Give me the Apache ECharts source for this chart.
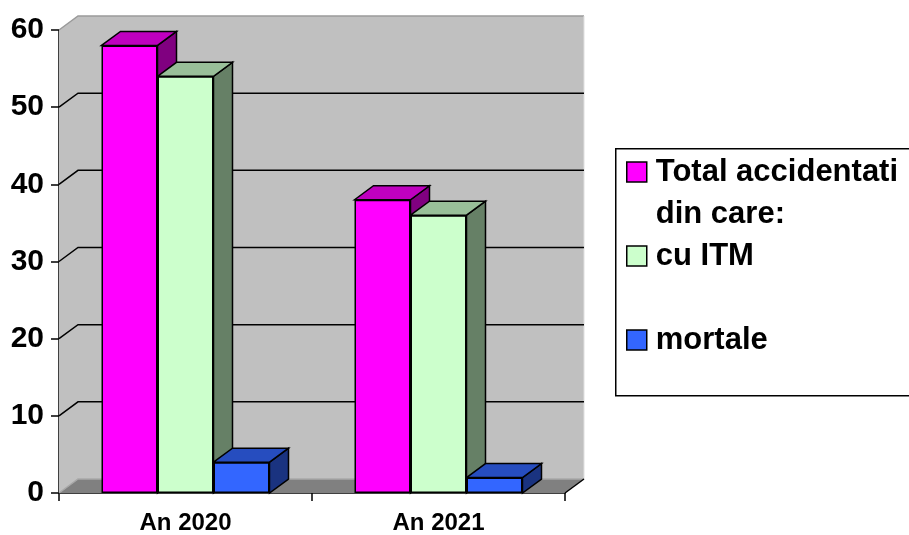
<!DOCTYPE html>
<html>
<head>
<meta charset="utf-8">
<script src="https://cdn.jsdelivr.net/npm/echarts@6/dist/echarts.min.js"></script>
<style>
  html, body { margin: 0; padding: 0; background: #ffffff; }
  #chart { width: 909px; height: 535px; }
</style>
</head>
<body>
<div id="chart"></div>
<script>
// ---- data ----
var categories = ['An 2020', 'An 2021'];
var seriesNames = ['Total accidentati\ndin care:', 'cu ITM', 'mortale'];
var totalValues = [58, 38];
var itmValues = [54, 36];
var mortaleValues = [4, 2];
var yTicks = [0, 10, 20, 30, 40, 50, 60];

// ---- style constants ----
var FONT = '"Liberation Sans", Arial, sans-serif';
var DX = 19, DY = -14;          // 3D depth offset (pixels)
var CAT_GAP = 0.336;            // category gap fraction
var frontColors = ['#FF00FF', '#CCFFCC', '#3366FF'];
var topColors = ['#BF00BF', '#99BF99', '#264DBF'];
var sideColors = ['#800080', '#668066', '#1A3380'];

var allValues = [totalValues, itmValues, mortaleValues];

function pairData(vals) {
  return vals.map(function (v, i) { return [i, v]; });
}

function faceRender(sIdx) {
  return function (params, api) {
    var cat = api.value(0), val = api.value(1);
    var top = api.coord([cat, val]);
    var base = api.coord([cat, 0]);
    var bandW = api.size([1, 0])[0];
    var barW = bandW * (1 - CAT_GAP) / 3;
    var x0 = top[0] - 1.5 * barW + sIdx * barW;
    var x1 = x0 + barW;
    var yT = top[1], yB = base[1];
    return {
      type: 'group',
      children: [
        { type: 'polygon', shape: { points: [[x1, yT], [x1 + DX, yT + DY], [x1 + DX, yB + DY], [x1, yB]] },
          style: { fill: sideColors[sIdx], stroke: '#000', lineWidth: 1.5, lineJoin: 'miter' } },
        { type: 'polygon', shape: { points: [[x0, yT], [x0 + DX, yT + DY], [x1 + DX, yT + DY], [x1, yT]] },
          style: { fill: topColors[sIdx], stroke: '#000', lineWidth: 1.5, lineJoin: 'miter' } }
      ]
    };
  };
}

function wallRender(params, api) {
  var cs = params.coordSys;
  var x = cs.x, y = cs.y, w = cs.width, h = cs.height;
  return {
    type: 'group',
    children: [
      { type: 'polygon', shape: { points: [[x, y], [x + DX, y + DY], [x + DX, y + h + DY], [x, y + h]] },
        style: { fill: '#C0C0C0' } },
      { type: 'rect', shape: { x: x + DX, y: y + DY, width: w, height: h },
        style: { fill: '#C0C0C0' } },
      { type: 'polygon', shape: { points: [[x, y + h], [x + w, y + h], [x + w + DX, y + h + DY], [x + DX, y + h + DY]] },
        style: { fill: '#808080' } },
      { type: 'polyline', shape: { points: [[x, y], [x + DX, y + DY], [x + w + DX, y + DY]] },
        style: { stroke: '#9A9A9A', lineWidth: 1.5, fill: null } },
      { type: 'polyline', shape: { points: [[x + w + DX, y + DY], [x + w + DX, y + h + DY]] },
        style: { stroke: '#E0E0E0', lineWidth: 1, fill: null } },
      { type: 'polyline', shape: { points: [[x, y + h], [x + DX, y + h + DY], [x + w + DX, y + h + DY]] },
        style: { stroke: '#A8A8A8', lineWidth: 1.5, fill: null } },
      { type: 'line', shape: { x1: x + w, y1: y + h, x2: x + w + DX, y2: y + h + DY },
        style: { stroke: '#000', lineWidth: 1.5 } }
    ]
  };
}

function gridRender(params, api) {
  var cs = params.coordSys;
  var v = api.value(1);
  var p = api.coord([0, v]);
  var x = cs.x, w = cs.width, yy = p[1];
  return {
    type: 'polyline',
    shape: { points: [[x, yy], [x + DX, yy + DY], [x + w + DX, yy + DY]] },
    style: { stroke: '#000', lineWidth: 1.5, fill: null }
  };
}

var gridLineData = yTicks.slice(1, yTicks.length - 1).map(function (v) { return [0, v]; });

var series = [
  { type: 'custom', renderItem: wallRender, data: [[0, 0]], z: 1, silent: true, clip: false },
  { type: 'custom', renderItem: gridRender, data: gridLineData, z: 1, silent: true, clip: false }
];
for (var s = 0; s < 3; s++) {
  series.push({ type: 'custom', renderItem: faceRender(s), data: pairData(allValues[s]),
    z: 3 + s, silent: true, clip: false });
}
for (var s2 = 0; s2 < 3; s2++) {
  series.push({
    type: 'bar', name: seriesNames[s2], data: allValues[s2],
    barGap: '0%', barCategoryGap: (CAT_GAP * 100) + '%',
    itemStyle: { color: frontColors[s2], borderColor: '#000', borderWidth: 1.5 },
    emphasis: { disabled: true }, z: 10
  });
}

var chart = echarts.init(document.getElementById('chart'), null, { renderer: 'canvas' });
chart.setOption({
  animation: false,
  backgroundColor: '#ffffff',
  grid: { left: 59, right: 344, top: 30, bottom: 41, containLabel: false },
  xAxis: {
    type: 'category', data: categories,
    axisLine: { show: true, lineStyle: { color: '#000', width: 1.5 } },
    axisTick: { show: true, alignWithLabel: false, length: 8, lineStyle: { color: '#000', width: 1.5 } },
    axisLabel: { color: '#000', fontSize: 24, fontWeight: 'bold', fontFamily: FONT, margin: 18 },
    splitLine: { show: false }
  },
  yAxis: {
    type: 'value', min: 0, max: 60, interval: 10,
    axisLine: { show: true, lineStyle: { color: '#000', width: 1.5 } },
    axisTick: { show: true, length: 8, lineStyle: { color: '#000', width: 1.5 } },
    axisLabel: { color: '#000', fontSize: 30, fontWeight: 'bold', fontFamily: FONT, margin: 15 },
    splitLine: { show: false }
  },
  graphic: [
    { type: 'rect', left: 615, top: 148, z: -1, silent: true,
      shape: { width: 330, height: 247 },
      style: { fill: '#ffffff', stroke: '#000', lineWidth: 1.5 } }
  ],
  legend: {
    data: seriesNames,
    orient: 'vertical',
    left: 626, top: 109,
    padding: 0,
    itemGap: -42,
    itemWidth: 20, itemHeight: 20,
    icon: 'rect',
    selectedMode: false,
    itemStyle: { borderColor: '#000', borderWidth: 1.5 },
    // three-line block (blank, name, continuation) keeps the name's first line level with the swatch
    formatter: function (name) {
      var parts = name.split('\n');
      if (parts.length < 2) parts.push(' ');
      return ' \n' + parts.join('\n');
    },
    textStyle: { color: '#000', fontSize: 31, fontWeight: 'bold', fontFamily: FONT,
      lineHeight: 42, padding: [0, 0, 0, 4] }
  },
  series: series
});
</script>
</body>
</html>
